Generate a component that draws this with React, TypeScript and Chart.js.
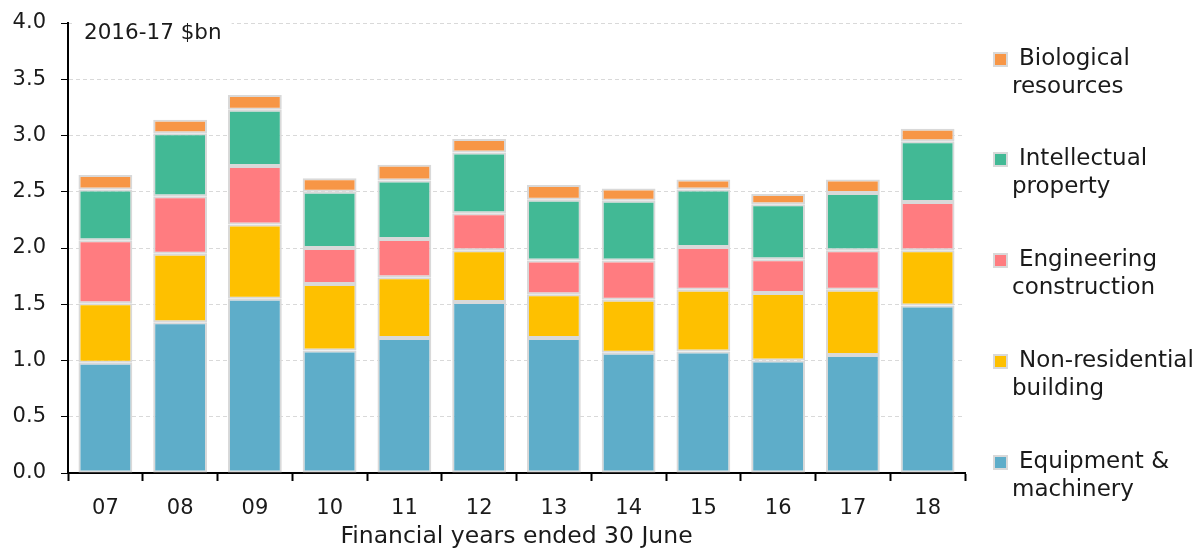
import React, { useEffect, useRef } from "react";
import { Chart, registerables } from "chart.js";

Chart.register(...registerables);

const categories = ["07", "08", "09", "10", "11", "12", "13", "14", "15", "16", "17", "18"];
const equipment = [0.98, 1.34, 1.55, 1.09, 1.2, 1.52, 1.2, 1.07, 1.08, 1.0, 1.05, 1.49];
const nonResidential = [0.53, 0.61, 0.66, 0.59, 0.54, 0.46, 0.39, 0.47, 0.55, 0.6, 0.58, 0.49];
const engineering = [0.56, 0.51, 0.52, 0.32, 0.34, 0.33, 0.3, 0.35, 0.38, 0.3, 0.35, 0.43];
const intellectual = [0.45, 0.56, 0.5, 0.5, 0.52, 0.54, 0.54, 0.53, 0.51, 0.49, 0.51, 0.54];
const biological = [0.13, 0.12, 0.13, 0.12, 0.14, 0.12, 0.13, 0.11, 0.09, 0.09, 0.12, 0.11];
const yTicks = [0, 0.5, 1, 1.5, 2, 2.5, 3, 3.5, 4];

const unitLabel = "2016-17 $bn";
const xTitle = "Financial years ended 30 June";

const COLORS = {
  equipment: "#5EADC9",
  nonres: "#FEC000",
  eng: "#FF7C80",
  ip: "#42B995",
  bio: "#F79646",
};

const legendItems = [
  { lines: ["Biological", "resources"], color: COLORS.bio },
  { lines: ["Intellectual", "property"], color: COLORS.ip },
  { lines: ["Engineering", "construction"], color: COLORS.eng },
  { lines: ["Non-residential", "building"], color: COLORS.nonres },
  { lines: ["Equipment &", "machinery"], color: COLORS.equipment },
];

const FONT = "'DejaVu Sans', sans-serif";
const TEXT = "#1a1a1a";
const TICK_FS = 21;

const overlayPlugin = {
  id: "overlay",
  afterDraw(chart: any) {
    const ctx = chart.ctx;
    const area = chart.chartArea;
    ctx.save();
    ctx.font = `21.5px ${FONT}`;
    const w = ctx.measureText(unitLabel).width;
    ctx.fillStyle = "#fff";
    ctx.fillRect(area.left + 4, area.top - 6, w + 22, 30);
    ctx.fillStyle = TEXT;
    ctx.textBaseline = "middle";
    ctx.textAlign = "left";
    ctx.fillText(unitLabel, area.left + 16, area.top + 10);

    const x0 = 993;
    const ys = [59, 159, 260, 361, 462];
    legendItems.forEach((it, i) => {
      const y = ys[i];
      ctx.fillStyle = "#d9d9d9";
      ctx.fillRect(x0, y - 7, 15, 15);
      ctx.fillStyle = it.color;
      ctx.fillRect(x0 + 2, y - 5, 11, 11);
      ctx.fillStyle = TEXT;
      ctx.font = `23px ${FONT}`;
      ctx.fillText(it.lines[0], x0 + 26, y);
      ctx.fillText(it.lines[1], x0 + 19, y + 28);
    });
    ctx.restore();
  },
};

export default function App() {
  const ref = useRef<HTMLCanvasElement>(null);
  useEffect(() => {
    if (!ref.current) return;
    const mk = (label: string, data: number[], color: string) => ({
      label,
      data,
      backgroundColor: color,
      borderColor: "#d9d9d9",
      borderWidth: 2,
      borderSkipped: false,
      barPercentage: 0.72,
      categoryPercentage: 1,
    });
    const chart = new Chart(ref.current, {
      type: "bar",
      data: {
        labels: categories,
        datasets: [
          mk("Equipment & machinery", equipment, COLORS.equipment),
          mk("Non-residential building", nonResidential, COLORS.nonres),
          mk("Engineering construction", engineering, COLORS.eng),
          mk("Intellectual property", intellectual, COLORS.ip),
          mk("Biological resources", biological, COLORS.bio),
        ],
      },
      options: {
        animation: false,
        responsive: true,
        maintainAspectRatio: false,
        layout: { padding: { left: 12, right: 230, top: 23, bottom: 0 } },
        plugins: { legend: { display: false }, tooltip: { enabled: false } },
        scales: {
          x: {
            stacked: true,
            offset: true,
            afterFit: (axis: any) => {
              axis.height = 75;
              axis.paddingLeft = 0;
              axis.paddingRight = 0;
            },
            border: { display: true, color: "#000", width: 2 },
            grid: {
              offset: true,
              drawOnChartArea: false,
              drawTicks: true,
              tickLength: 8,
              tickColor: "#000",
              tickWidth: 2,
            },
            ticks: { color: TEXT, font: { family: FONT, size: TICK_FS }, padding: 15 },
            title: {
              display: true,
              text: xTitle,
              color: TEXT,
              font: { family: FONT, size: 23.5 },
              padding: { top: 0, bottom: -3 },
            },
          },
          y: {
            stacked: true,
            min: 0,
            max: 4,
            afterFit: (axis: any) => {
              axis.width = 56;
              axis.paddingTop = 0;
              axis.paddingBottom = 0;
            },
            afterBuildTicks: (axis: any) => {
              axis.ticks = yTicks.map((v) => ({ value: v }));
            },
            border: { display: true, color: "#000", width: 2, dash: [4, 3] },
            grid: {
              color: "#d9d9d9",
              lineWidth: 1,
              tickBorderDash: [1, 0],
              tickColor: "#000",
              tickLength: 7,
              drawTicks: true,
            },
            ticks: {
              color: TEXT,
              font: { family: FONT, size: TICK_FS },
              padding: 15,
              callback: (v: any) => Number(v).toFixed(1),
            },
          },
        },
      },
      plugins: [overlayPlugin],
    });
    return () => chart.destroy();
  }, []);
  return (
    <div style={{ position: "fixed", left: 0, top: 0, width: 1195, height: 548, background: "#fff" }}>
      <canvas ref={ref} />
    </div>
  );
}
